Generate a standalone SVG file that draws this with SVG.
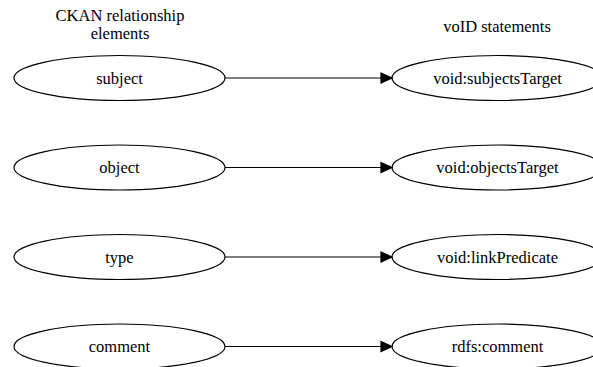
<svg xmlns="http://www.w3.org/2000/svg" width="593" height="367" viewBox="0 0 593 367">
<style>
  .t { font-family: 'Liberation Serif', 'Times New Roman', 'DejaVu Serif', serif; font-size: 16.5px; fill: #000; text-anchor: middle; }
  ellipse { fill: none; stroke: #000; stroke-width: 1.2; }
  .edge { stroke: #000; stroke-width: 1.2; fill: none; }
  .head { fill: #000; stroke: #000; stroke-width: 1.2; }
</style>
<rect width="593" height="367" fill="#fff"/>
<g id="titles">
  <text class="t" x="120" y="20.5">CKAN relationship</text>
  <text class="t" x="120" y="39">elements</text>
  <text class="t" x="497" y="32">voID statements</text>
</g>
<g id="connectors">
  <path class="edge" d="M225,78 L381,78"/>
  <polygon class="head" points="381,73 392,78 381,83"/>
  <path class="edge" d="M225,167.5 L381,167.5"/>
  <polygon class="head" points="381,162.5 392,167.5 381,172.5"/>
  <path class="edge" d="M225,257 L381,257"/>
  <polygon class="head" points="381,252 392,257 381,262"/>
  <path class="edge" d="M225,346.5 L381,346.5"/>
  <polygon class="head" points="381,341.5 392,346.5 381,351.5"/>
</g>
<g id="subject"><ellipse cx="119.5" cy="78" rx="105.5" ry="22.5"/><text class="t" x="119.5" y="83.5">subject</text></g>
<g id="object"><ellipse cx="119.5" cy="167.5" rx="105.5" ry="22.5"/><text class="t" x="119.5" y="173">object</text></g>
<g id="type"><ellipse cx="119.5" cy="257" rx="105.5" ry="22.5"/><text class="t" x="119.5" y="262.5">type</text></g>
<g id="comment"><ellipse cx="119.5" cy="346.5" rx="105.5" ry="22.5"/><text class="t" x="119.5" y="352">comment</text></g>
<g id="subjectsTarget"><ellipse cx="497.5" cy="78" rx="105.5" ry="22.5"/><text class="t" x="497.5" y="83.5">void:subjectsTarget</text></g>
<g id="objectsTarget"><ellipse cx="497.5" cy="167.5" rx="105.5" ry="22.5"/><text class="t" x="497.5" y="173">void:objectsTarget</text></g>
<g id="linkPredicate"><ellipse cx="497.5" cy="257" rx="105.5" ry="22.5"/><text class="t" x="497.5" y="262.5">void:linkPredicate</text></g>
<g id="rdfsComment"><ellipse cx="497.5" cy="346.5" rx="105.5" ry="22.5"/><text class="t" x="497.5" y="352">rdfs:comment</text></g>
</svg>
